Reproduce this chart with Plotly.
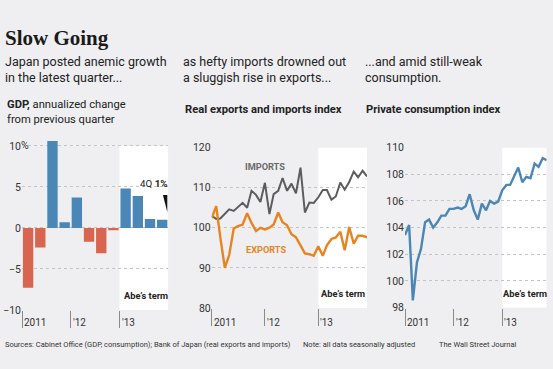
import pandas as pd
import plotly.graph_objects as go

W, H = 553, 369

# ---------------- data ----------------
gdp_quarters = ["2011Q1", "2011Q2", "2011Q3", "2011Q4", "2012Q1", "2012Q2",
                "2012Q3", "2012Q4", "2013Q1", "2013Q2", "2013Q3", "2013Q4"]
gdp_change = [-7.3, -2.4, 10.6, 0.7, 3.7, -1.7, -3.1, -0.3, 4.8, 3.9, 1.1, 1.0]

months = pd.date_range("2011-01-01", "2013-12-01", freq="MS")
imports_index = [103.0, 102.2, 102.3, 103.6, 104.6, 104.2, 105.2, 106.2, 105.0, 109.2,
                 108.2, 106.4, 111.2, 103.4, 108.4, 109.2, 112.4, 109.2, 111.0, 108.6,
                 115.0, 103.8, 106.3, 106.2, 107.6, 109.4, 109.4, 107.0, 107.8, 111.3,
                 109.5, 111.4, 114.0, 112.6, 114.2, 112.8]
exports_index = [102.4, 105.4, 97.6, 90.0, 93.2, 99.8, 100.4, 100.8, 103.6, 101.2,
                 99.2, 100.0, 99.6, 100.0, 100.8, 103.8, 101.4, 100.6, 98.4, 97.6,
                 95.6, 93.6, 93.4, 93.0, 95.4, 93.0, 95.6, 97.2, 97.6, 99.0,
                 94.4, 100.2, 96.0, 98.0, 98.0, 97.6]
consumption_index = [103.45, 104.2, 98.55, 101.4, 102.4, 104.4, 104.6, 104.0, 104.4, 104.9,
                     104.9, 105.4, 105.4, 105.5, 105.4, 105.6, 106.5, 105.3, 104.6, 105.8,
                     105.3, 106.0, 105.8, 105.95, 106.8, 107.2, 107.2, 107.8, 108.5, 107.4,
                     107.8, 107.7, 108.8, 108.55, 109.2, 109.05]

year_labels = ["2011", "'12", "'13"]
gdp_year_ticks = [-0.5, 3.5, 7.5]
month_year_ticks = ["2011-01-01", "2012-01-01", "2013-01-01"]
abe_start_quarter = 7.5
abe_start_month = "2013-01-01"

gdp_yticks = [-10, -5, 0, 5, 10]
gdp_yticktext = ["\u221210", "\u22125", "0", "5", "10"]
trade_yticks = [80, 90, 100, 110, 120]
cons_yticks = [98, 100, 102, 104, 106, 108, 110]

# ---------------- style ----------------
BG = "#efeff1"
GRID = "#c4c4c8"
BLUE = "#4a86b6"
RED = "#d7654f"
GRAYLINE = "#5c5c5c"
ORANGE = "#e8841f"
TXT = "#222222"
NARROW = "Roboto, Liberation Sans, sans-serif"
SERIF = "Liberation Serif, DejaVu Serif, serif"

fig = go.Figure()

# left: GDP bars
fig.add_trace(go.Bar(
    x=list(range(len(gdp_change))), y=gdp_change,
    marker=dict(color=[BLUE if v >= 0 else RED for v in gdp_change], line=dict(width=0)),
    xaxis="x", yaxis="y", showlegend=False, hoverinfo="skip"))

# middle: imports / exports
fig.add_trace(go.Scatter(x=months, y=imports_index, mode="lines",
                         line=dict(color=GRAYLINE, width=2), xaxis="x2", yaxis="y2",
                         showlegend=False))
fig.add_trace(go.Scatter(x=months, y=exports_index, mode="lines",
                         line=dict(color=ORANGE, width=2.4), xaxis="x2", yaxis="y2",
                         showlegend=False))

# right: consumption
fig.add_trace(go.Scatter(x=months, y=consumption_index, mode="lines",
                         line=dict(color=BLUE, width=2.4), xaxis="x3", yaxis="y3",
                         showlegend=False))


def px_x(px):
    return px / W


def px_y(py):
    return 1 - py / H


tickfont = dict(family=NARROW, size=10.5, color="#333333")
common_y = dict(showgrid=True, gridcolor=GRID, griddash="dot", gridwidth=1,
                zeroline=False, showline=False, ticks="", tickfont=tickfont, fixedrange=True)
common_x = dict(showgrid=False, zeroline=False, showline=False, showticklabels=False,
                ticks="outside", ticklen=17, tickwidth=1, tickcolor="#8a8a8a", fixedrange=True)

fig.update_layout(
    width=W, height=H, margin=dict(l=0, r=0, t=0, b=0),
    paper_bgcolor=BG, plot_bgcolor=BG, bargap=0.15,
    xaxis=dict(domain=[px_x(22), px_x(168.3)], range=[-0.5, 11.5],
               tickmode="array", tickvals=gdp_year_ticks, anchor="y", **common_x),
    yaxis=dict(domain=[px_y(315), px_y(136.5)], range=[-10, 11],
               tickmode="array", tickvals=gdp_yticks, ticktext=gdp_yticktext,
               anchor="x", **common_y),
    xaxis2=dict(domain=[px_x(211.7), px_x(367)], range=["2011-01-01", "2013-12-01"],
                type="date", tickmode="array", tickvals=month_year_ticks, anchor="y2", **common_x),
    yaxis2=dict(domain=[px_y(313), px_y(146.7)], range=[80, 120],
                tickmode="array", tickvals=trade_yticks, anchor="x2", **common_y),
    xaxis3=dict(domain=[px_x(405), px_x(546.7)], range=["2011-01-01", "2013-12-01"],
                type="date", tickmode="array", tickvals=month_year_ticks, anchor="y3", **common_x),
    yaxis3=dict(domain=[px_y(312.7), px_y(146.7)], range=[98, 110],
                tickmode="array", tickvals=cons_yticks, anchor="x3", **common_y),
)

# Abe's term white regions
fig.add_shape(type="rect", xref="x", yref="y", x0=abe_start_quarter, x1=11.5, y0=-10, y1=10,
              fillcolor="white", line=dict(width=0), layer="below")
fig.add_shape(type="rect", xref="x2", yref="y2", x0=abe_start_month, x1="2013-12-01", y0=80, y1=120,
              fillcolor="white", line=dict(width=0), layer="below")
fig.add_shape(type="rect", xref="x3", yref="y3", x0=abe_start_month, x1="2013-12-01", y0=98, y1=110,
              fillcolor="white", line=dict(width=0), layer="below")

# pointer wedge to the last bar
fig.add_shape(type="path", xref="x", yref="y",
              path="M 11.06 4.0 L 11.42 4.0 L 11.42 1.9 Z",
              fillcolor="#111111", line=dict(width=0))


def ann(text, px, py, size, color=TXT, family=NARROW, xanchor="left", **kw):
    fig.add_annotation(text=text, x=px_x(px), y=px_y(py), xref="paper", yref="paper",
                       xanchor=xanchor, yanchor="middle", showarrow=False,
                       font=dict(family=family, size=size, color=color), **kw)


# year labels under axes
for xref, ticks in (("x", gdp_year_ticks), ("x2", month_year_ticks), ("x3", month_year_ticks)):
    for t, lab in zip(ticks, year_labels):
        fig.add_annotation(text=lab, x=t, xref=xref, y=px_y(328), yref="paper",
                           xanchor="left", yanchor="middle", xshift=0, showarrow=False,
                           font=dict(family=NARROW, size=10, color="#333333"))

# % sign after 10
ann("%", 19.0, 145, 10.5, color="#333333")

# titles
ann("<b>Slow Going</b>", 3, 33, 21, family=SERIF, color="#1a1a1a")
ann("Japan posted anemic growth", 3, 58, 12.5)
ann("in the latest quarter...", 3, 74, 12.5)
ann("as hefty imports drowned out", 181, 58, 12.5)
ann("a sluggish rise in exports...", 181, 74, 12.5)
ann("...and amid still-weak", 363, 58, 12.5)
ann("consumption.", 363, 74, 12.5)

ann("<b>GDP,</b> annualized change", 5, 102, 11.2)
ann("from previous quarter", 5, 118, 11.2)
ann("<b>Real exports and imports index</b>", 183, 107, 11.2)
ann("<b>Private consumption index</b>", 364, 107, 11.2)

# in-chart labels
ann("<b>IMPORTS</b>", 265, 166, 9.2, color="#6a6a6a", xanchor="center")
ann("<b>EXPORTS</b>", 266, 252, 9.2, color=ORANGE, xanchor="center")
ann("<b>Abe\u2019s term</b>", 169.5, 300, 9.3, xanchor="right")
ann("<b>Abe\u2019s term</b>", 367, 298, 9.3, xanchor="right")
ann("<b>Abe\u2019s term</b>", 548.5, 298, 9.3, xanchor="right")
ann("4Q <b>1%</b>", 169.5, 184, 9.8, xanchor="right")

# footer
ann("Sources: Cabinet Office (GDP, consumption); Bank of Japan (real exports and imports)", 3, 351, 7.5, color="#333333")
ann("Note: all data seasonally adjusted", 301, 351, 7.5, color="#333333")
ann("The Wall Street Journal", 518.5, 351, 7.5, color="#333333", xanchor="right")

fig.write_html("out.html", config={"displayModeBar": False},
               post_script="document.body.style.margin='0';document.body.style.overflow='hidden';")
